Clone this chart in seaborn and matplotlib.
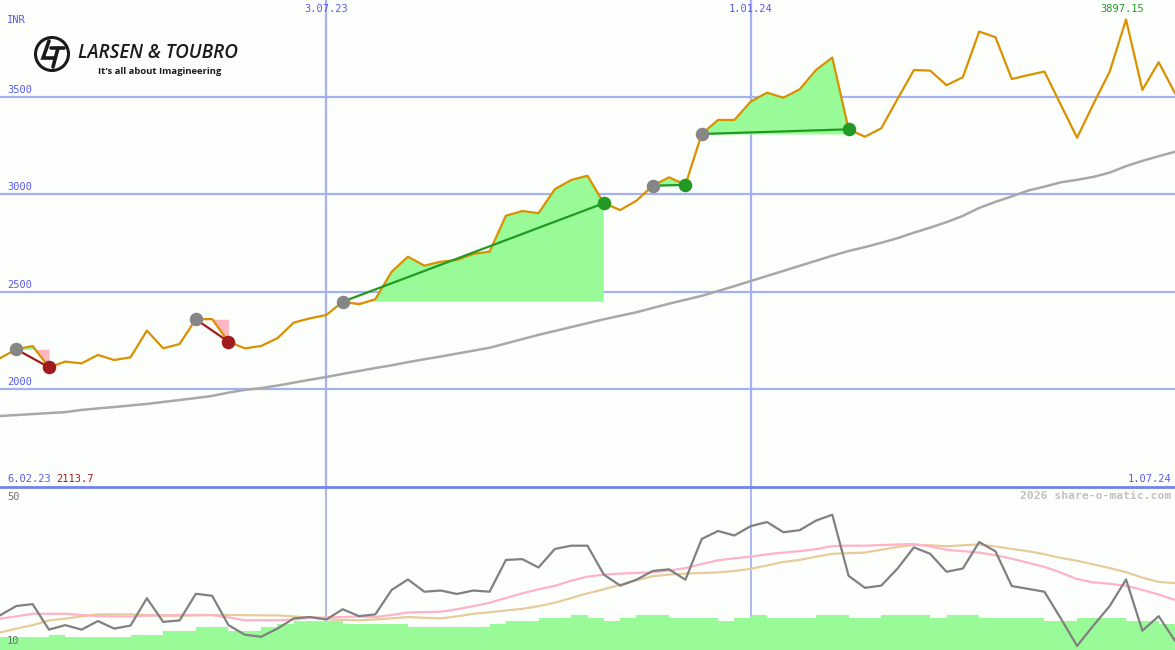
import matplotlib
matplotlib.use("Agg")
import matplotlib.pyplot as plt
import seaborn as sns
import pandas as pd
from matplotlib.patches import Circle

# weekly closes, L&T (INR)
weeks = list(range(73))
price = [2160, 2206, 2223, 2113.7, 2143, 2134, 2177, 2151, 2165, 2302,
         2211, 2233, 2360, 2361, 2245, 2211, 2223, 2263, 2343, 2365,
         2382, 2450, 2437, 2463, 2604, 2681, 2635, 2655, 2664, 2695,
         2707, 2891, 2915, 2904, 3027, 3074, 3096, 2955, 2920, 2968,
         3045, 3088, 3049, 3310, 3382, 3382, 3476, 3522, 3496, 3539,
         3638, 3702, 3334, 3296, 3339, 3490, 3638, 3635, 3560, 3601,
         3835, 3806, 3592, 3612, 3630, 3460, 3291, 3464, 3630, 3897.15,
         3536, 3678, 3519]
ma_long = [1864, 1869, 1874, 1879, 1884, 1895, 1903, 1910, 1918, 1926,
           1936, 1946, 1956, 1967, 1984, 1998, 2007, 2020, 2035, 2050,
           2064, 2080, 2095, 2110, 2124, 2140, 2155, 2169, 2184, 2199,
           2214, 2236, 2258, 2280, 2300, 2320, 2340, 2360, 2378, 2396,
           2418, 2440, 2460, 2480, 2505, 2530, 2556, 2582, 2608, 2634,
           2660, 2686, 2710, 2730, 2752, 2776, 2804, 2830, 2858, 2890,
           2931, 2962, 2990, 3020, 3040, 3062, 3075, 3090, 3112, 3145,
           3172, 3196, 3219]

# lower indicator panel
osc = [18.5, 20.8, 21.25, 15, 16.1, 15, 17.1, 15.25, 16, 22.7,
       16.9, 17.25, 23.8, 23.3, 16.1, 13.75, 13.25, 15.25, 17.75, 18.1,
       17.5, 20, 18.3, 18.75, 24.75, 27.3, 24.3, 24.6, 23.75, 24.6,
       24.3, 32.1, 32.3, 30.25, 34.8, 35.6, 35.6, 28.5, 25.8, 27.25,
       29.4, 29.8, 27.25, 37.25, 39.2, 38.1, 40.4, 41.4, 38.9, 39.4,
       41.75, 43.2, 28.2, 25.25, 25.8, 30, 35.2, 33.6, 29.2, 30,
       36.5, 34.2, 25.7, 25, 24.3, 17.75, 11, 16, 20.8, 27.3,
       14.75, 18.3, 12.25]
osc_pink = [17.7, 18.25, 18.9, 18.9, 18.9, 18.6, 18.3, 18.25, 18.2, 18.4,
            18.5, 18.6, 18.6, 18.6, 18, 17.3, 17.3, 17.3, 17.5, 17.9,
            18, 18.1, 18.2, 18.1, 18.6, 19.2, 19.3, 19.4, 20, 20.75,
            21.6, 22.75, 23.9, 24.9, 25.75, 27, 28, 28.5, 28.75, 28.9,
            29.1, 29.5, 30.1, 31.1, 32, 32.5, 32.9, 33.5, 33.9, 34.25,
            34.75, 35.5, 35.6, 35.6, 35.75, 35.9, 36, 35.4, 34.6, 34.25,
            33.9, 33.25, 32.4, 31.4, 30.4, 29, 27.4, 26.6, 26.25, 25.75,
            24.75, 23.6, 22.3]
osc_tan = [14.3, 15.25, 16.1, 17.25, 17.7, 18.25, 18.75, 18.75, 18.75, 18.6,
           18.4, 18.4, 18.5, 18.55, 18.6, 18.55, 18.5, 18.5, 18.25, 17.9,
           17.55, 17.4, 17.3, 17.5, 17.75, 18.1, 17.9, 17.75, 18.25, 18.9,
           19.25, 19.7, 20.1, 20.75, 21.6, 22.75, 23.9, 24.9, 26, 27.1,
           28.1, 28.5, 28.75, 28.9, 29.05, 29.4, 29.9, 30.75, 31.6, 32.1,
           32.9, 33.6, 33.75, 33.9, 34.6, 35.3, 35.8, 35.7, 35.45, 35.7,
           35.9, 35.4, 34.8, 34.25, 33.5, 32.6, 31.9, 31, 30.1, 29.1,
           27.75, 26.7, 26.4]
osc_bars = [13.1, 13.1, 13.1, 13.8, 13.1, 13.1, 13.1, 13.1, 13.8, 13.8,
            14.75, 14.75, 15.6, 15.6, 14.75, 14.75, 15.6, 16.3, 17.1, 17.1,
            17.1, 16.3, 16.3, 16.3, 16.3, 15.6, 15.6, 15.6, 15.6, 15.6,
            16.3, 17.0, 17.0, 17.75, 17.75, 18.5, 17.75, 17.0, 17.75, 18.5,
            18.5, 17.75, 17.75, 17.75, 17.0, 17.75, 18.5, 17.75, 17.75, 17.75,
            18.5, 18.5, 17.75, 17.75, 18.5, 18.5, 18.5, 17.75, 18.5, 18.5,
            17.75, 17.75, 17.75, 17.75, 17.0, 17.0, 17.75, 17.75, 17.75, 17.0,
            17.0, 16.3, 16.3]

entries = [1, 12, 21, 40, 43]
exits = [3, 14, 37, 42, 52]

price_ticks = [2000, 2500, 3000, 3500]
date_ticks = [20, 46]
date_labels = ["3.07.23", "1.01.24"]
start_label = "6.02.23"
end_label = "1.07.24"

df = pd.DataFrame({"week": weeks, "price": price, "ma": ma_long,
                   "osc": osc, "pink": osc_pink, "tan": osc_tan})

sns.set_theme(style="white")
plt.rcParams["font.family"] = ["DejaVu Sans Mono"]

BG = "#FDFFFD"
GRID = "#A4B2F2"
BLUE = "#5A5AF0"
GREEN_FILL = "#98FB98"
PINK_FILL = "#FFB6C1"
GAIN = "#229922"
LOSS = "#A01C1C"

W, H = 1175, 650
fig = plt.figure(figsize=(11.75, 6.5), dpi=100, facecolor=BG)

ax = fig.add_axes([0, 1 - 487 / H, 1, 487 / H], facecolor=BG)
ax2 = fig.add_axes([0, 0, 1, 163 / H], facecolor=BG)

# upper panel
for t in price_ticks:
    ax.axhline(t, color=GRID, lw=1.6, zorder=1)
    ax.text(0.006, t + 12, str(t), transform=ax.get_yaxis_transform(),
            color=BLUE, fontsize=7.5, va="bottom", ha="left")
for t in date_ticks:
    ax.axvline(t, color=GRID, lw=1.6, zorder=1)
    ax2.axvline(t, color=GRID, lw=1.3, zorder=1)

for e, x in zip(entries, exits):
    xs = weeks[e:x + 1]
    ys = price[e:x + 1]
    base = price[e]
    ax.fill_between(xs, ys, base, where=[v >= base for v in ys],
                    interpolate=True, color=GREEN_FILL, lw=0, zorder=2)
    ax.fill_between(xs, ys, base, where=[v < base for v in ys],
                    interpolate=True, color=PINK_FILL, lw=0, zorder=2)

sns.lineplot(data=df, x="week", y="ma", ax=ax, color="#A8A8A8", lw=1.8, zorder=3)
sns.lineplot(data=df, x="week", y="price", ax=ax, color="#DA9100", lw=1.6, zorder=4)

for e, x in zip(entries, exits):
    c = GAIN if price[x] > price[e] else LOSS
    ax.plot([e, x], [price[e], price[x]], color=c, lw=1.6, zorder=5)
    ax.scatter([x], [price[x]], s=95, color=c, zorder=6, lw=0)
    ax.scatter([e], [price[e]], s=95, color="#868686", zorder=6, lw=0)

imax = price.index(max(price))
ax.annotate(f"{max(price):.2f}", (imax, max(price)), xytext=(-3, 4),
            textcoords="offset points", ha="center", va="bottom",
            color=GAIN, fontsize=7.5, zorder=7)

ax.set_xlim(0, 72)
ax.set_ylim(1500, 3997)
ax.set_xlabel("")
ax.set_ylabel("")
ax.set_xticks([])
ax.set_yticks([])
for s in ax.spines.values():
    s.set_visible(False)

# lower panel
ax2.fill_between(weeks, 10, osc_bars, step="post", color=GREEN_FILL, lw=0, zorder=2)
sns.lineplot(data=df, x="week", y="tan", ax=ax2, color="#E6CC9C", lw=1.6, zorder=3)
sns.lineplot(data=df, x="week", y="pink", ax=ax2, color="#FFB3C8", lw=1.6, zorder=3)
sns.lineplot(data=df, x="week", y="osc", ax=ax2, color="#808080", lw=1.6, zorder=4)
ax2.set_xlim(0, 72)
ax2.set_ylim(10, 50)
ax2.set_xlabel("")
ax2.set_ylabel("")
ax2.set_xticks([])
ax2.set_yticks([])
for s in ax2.spines.values():
    s.set_visible(False)


def px(x, y):
    return x / W, 1 - y / H


# axis texts
fig.text(*px(7, 20), "INR", color=BLUE, fontsize=7.5, va="center")
for t, lab in zip(date_ticks, date_labels):
    fig.text(*px(t * W / 72, 9), lab, color=BLUE, fontsize=7.5,
             va="center", ha="center")
fig.text(*px(7, 479), start_label, color=BLUE, fontsize=7.5, va="center")
fig.text(*px(56, 479), f"{min(price)}", color=LOSS, fontsize=7.5, va="center")
fig.text(*px(1171, 479), end_label, color=BLUE, fontsize=7.5,
         va="center", ha="right")
fig.text(*px(1171, 496), "2026 share-o-matic.com", color="#C0C0C0",
         fontsize=8.2, fontweight="bold", va="center", ha="right")
fig.text(*px(7, 497), "50", color="#707070", fontsize=7.5, va="center")
fig.text(*px(7, 641), "10", color="#707070", fontsize=7.5, va="center")

# overlay: panel separator and logo
lg = fig.add_axes([0, 0, 1, 1], facecolor="none", zorder=10)
lg.set_xlim(0, W)
lg.set_ylim(H, 0)
lg.axis("off")
lg.axhline(487, color="#7282F0", lw=2)
lg.add_patch(Circle((52, 54), 16.5, fill=False, lw=2.2, color="#1a1a1a"))
lg.plot([49, 43, 55], [41, 58, 58], color="#1a1a1a", lw=2.6,
        solid_joinstyle="miter")
lg.plot([51, 64], [48, 48], color="#1a1a1a", lw=2.6)
lg.plot([58, 53], [48, 67], color="#1a1a1a", lw=2.6)
lg.text(78, 53, "LARSEN & TOUBRO", family=["Open Sans", "DejaVu Sans"],
        style="italic", fontweight="semibold", fontsize=13.6,
        color="#1a1a1a", va="center", ha="left")
lg.text(98, 72, "It\u2019s all about Imagineering", family=["Open Sans", "DejaVu Sans"],
        fontweight="bold", fontsize=6.8, color="#1a1a1a", va="center", ha="left")

plt.savefig("out.png", dpi=100, facecolor=BG)
plt.close()
